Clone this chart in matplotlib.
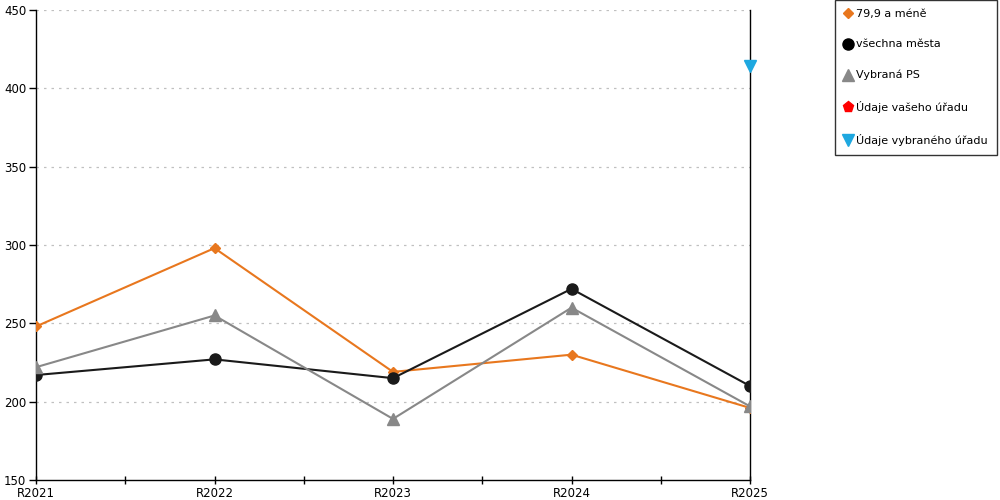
import numpy as np
import matplotlib
matplotlib.use("Agg")
from matplotlib import pyplot as plt
from matplotlib.lines import Line2D

years = ["R2021", "R2022", "R2023", "R2024", "R2025"]
mene_79 = [248, 298, 219, 230, 196]
vsechna_mesta = [217, 227, 215, 272, 210]
vybrana_ps = [222, 255, 189, 260, 197]
vybrany_urad = [None, None, None, None, 414]

plt.rcParams['font.family'] = ['DejaVu Sans']

fig = plt.figure(figsize=(10, 5), dpi=100)
ax = fig.add_axes([0.036, 0.04, 0.714, 0.94])

x = np.arange(len(years))
orange = "#E8771E"
ax.plot(x, mene_79, color=orange, lw=1.5, marker="D", ms=5.5, zorder=3)
ax.plot(x, vsechna_mesta, color="#1a1a1a", lw=1.5, marker="o", ms=8, zorder=3)
ax.plot(x, vybrana_ps, color="#888888", lw=1.5, marker="^", ms=8, zorder=3)
yu = [np.nan if v is None else v for v in vybrany_urad]
ax.plot(x, yu, color="#1EA8E0", lw=0, marker="v", ms=8, zorder=4, clip_on=False)

ax.set_xlim(0, len(years) - 1)
ax.set_ylim(150, 450)
ax.set_yticks([150, 200, 250, 300, 350, 400, 450])
ax.set_xticks(x)
ax.set_xticklabels(years)
ax.set_xticks(np.arange(0.5, len(years) - 1, 1), minor=True)
ax.tick_params(axis="x", which="both", length=6, direction="inout", labelsize=8.5, pad=2, width=1)
ax.tick_params(axis="y", length=5, direction="out", labelsize=8.5, pad=2, width=1)
for yv in [200, 250, 300, 350, 400, 450]:
    ax.axhline(yv, color="#c0c0c0", lw=0.9, ls=(0, (2, 4)), zorder=1)

ax.spines["top"].set_visible(False)
for s in ["left", "bottom", "right"]:
    ax.spines[s].set_linewidth(1)
    ax.spines[s].set_color("black")

handles = [
    Line2D([], [], color=orange, marker="D", lw=0, ms=5.5),
    Line2D([], [], color="black", marker="o", lw=0, ms=8),
    Line2D([], [], color="#888888", marker="^", lw=0, ms=8),
    Line2D([], [], color="#ff0000", marker="p", lw=0, ms=8),
    Line2D([], [], color="#1EA8E0", marker="v", lw=0, ms=8),
]
labels = ["79,9 a méně", "všechna města", "Vybraná PS", "Údaje vašeho úřadu", "Údaje vybraného úřadu"]
leg = fig.legend(handles, labels, loc="upper left", bbox_to_anchor=(0.835, 1.0),
                 frameon=True, fancybox=False, edgecolor="black", fontsize=8,
                 handletextpad=0.3, handlelength=0.8, labelspacing=1.85,
                 borderpad=0.8, borderaxespad=0)
leg.get_frame().set_linewidth(1)

fig.savefig("out.png", dpi=100)
